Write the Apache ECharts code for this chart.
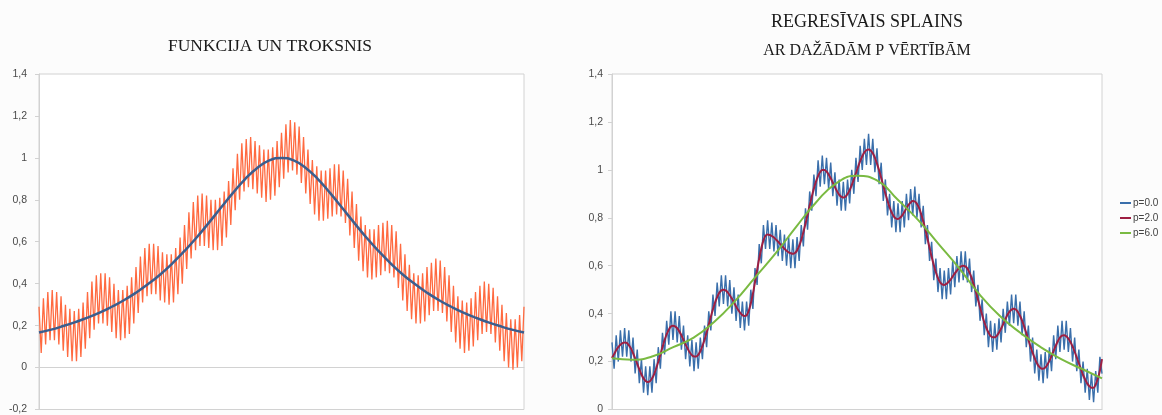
<!DOCTYPE html>
<html>
<head>
<meta charset="utf-8">
<script src="https://cdn.jsdelivr.net/npm/echarts@6/dist/echarts.min.js"></script>
<style>
html,body{margin:0;padding:0;background:#fcfcfc;}
#c{width:1162px;height:415px;}
</style>
</head>
<body>
<div id="c"></div>
<script>
// Left panel: function + noise (orange), sampled at the noise extremes
const leftNoisy = [
0.29,0.07,0.33,0.11,0.36,0.13,0.37,0.13,0.36,0.11,0.34,0.08,0.30,0.05,0.28,0.03,0.27,0.03,0.28,0.05,0.31,0.09,
0.36,0.14,0.41,0.18,0.44,0.21,0.45,0.21,0.45,0.20,0.43,0.17,0.40,0.14,0.37,0.13,0.37,0.14,0.39,0.16,0.43,0.21,
0.48,0.26,0.53,0.31,0.57,0.34,0.59,0.35,0.59,0.35,0.58,0.32,0.55,0.31,0.54,0.30,0.54,0.31,0.57,0.35,0.62,0.40,
0.68,0.47,0.74,0.52,0.79,0.56,0.82,0.58,0.83,0.58,0.82,0.57,0.80,0.56,0.80,0.56,0.81,0.58,0.84,0.62,0.89,0.68,
0.95,0.75,1.02,0.80,1.07,0.84,1.09,0.86,1.10,0.85,1.08,0.83,1.06,0.81,1.04,0.79,1.04,0.80,1.05,0.82,1.08,0.86,
1.12,0.90,1.16,0.93,1.18,0.94,1.17,0.92,1.15,0.88,1.10,0.83,1.04,0.78,0.99,0.73,0.96,0.70,0.94,0.70,0.94,0.71,
0.95,0.72,0.97,0.73,0.97,0.72,0.94,0.69,0.90,0.63,0.84,0.57,0.78,0.51,0.72,0.46,0.68,0.43,0.66,0.42,0.66,0.43,
0.68,0.44,0.69,0.46,0.70,0.45,0.68,0.43,0.65,0.38,0.59,0.32,0.54,0.27,0.49,0.23,0.45,0.21,0.44,0.21,0.45,0.22,
0.48,0.25,0.50,0.27,0.52,0.27,0.51,0.26,0.48,0.22,0.44,0.17,0.39,0.12,0.34,0.09,0.32,0.07,0.31,0.08,0.33,0.10,
0.36,0.13,0.39,0.16,0.41,0.17,0.40,0.16,0.38,0.12,0.34,0.08,0.30,0.03,0.26,0.00,0.23,-0.01,0.23,0.00,0.25,0.03,0.29
];
// Left panel: the underlying function (dark blue)
const leftFunc = [
0.167,0.181,0.198,0.217,0.238,0.262,0.290,0.321,0.357,0.398,0.444,0.497,0.556,0.620,0.690,0.762,0.833,0.899,0.952,0.988,
1.000,
0.988,0.952,0.899,0.833,0.762,0.690,0.620,0.556,0.497,0.444,0.398,0.357,0.321,0.290,0.262,0.238,0.217,0.198,0.181,0.167
];
// Right panel: p=0.0 (blue)
const p00 = [
0.28,0.17,0.31,0.20,0.33,0.22,0.34,0.22,0.33,0.20,
0.30,0.15,0.25,0.11,0.21,0.07,0.18,0.06,0.18,0.07,
0.21,0.11,0.26,0.17,0.32,0.23,0.37,0.27,0.41,0.29,
0.41,0.28,0.39,0.25,0.35,0.21,0.31,0.18,0.29,0.16,
0.28,0.17,0.30,0.21,0.35,0.26,0.41,0.33,0.48,0.39,
0.53,0.43,0.56,0.44,0.56,0.43,0.54,0.40,0.51,0.37,
0.48,0.34,0.45,0.33,0.45,0.35,0.50,0.42,0.59,0.52,
0.69,0.61,0.77,0.67,0.79,0.67,0.78,0.66,0.77,0.64,
0.75,0.62,0.73,0.60,0.72,0.59,0.71,0.59,0.72,0.62,
0.77,0.68,0.84,0.75,0.91,0.83,0.98,0.89,1.04,0.93,
1.06,0.94,1.05,0.92,1.03,0.89,0.99,0.85,0.96,0.83,
0.95,0.83,0.96,0.86,1.00,0.90,1.05,0.95,1.10,1.00,
1.13,1.02,1.15,1.02,1.13,0.99,1.09,0.94,1.03,0.87,
0.96,0.81,0.90,0.76,0.87,0.74,0.86,0.74,0.87,0.76,
0.90,0.79,0.92,0.81,0.93,0.80,0.90,0.76,0.85,0.69,
0.77,0.62,0.70,0.54,0.63,0.49,0.59,0.46,0.58,0.46,
0.59,0.48,0.62,0.51,0.64,0.53,0.66,0.54,0.66,0.53,
0.63,0.49,0.58,0.43,0.52,0.37,0.46,0.31,0.40,0.26,
0.37,0.24,0.36,0.25,0.38,0.28,0.42,0.32,0.45,0.35,
0.48,0.36,0.48,0.35,0.45,0.31,0.41,0.26,0.35,0.20,
0.30,0.15,0.25,0.12,0.23,0.11,0.24,0.13,0.26,0.16,
0.31,0.21,0.35,0.24,0.37,0.25,0.37,0.24,0.34,0.20,
0.30,0.16,0.25,0.11,0.20,0.07,0.17,0.04,0.15,0.03,
0.16,0.07,0.22,0.15
];
// Right panel: p=2.0 (dark red)
const p20 = [
0.215,0.231,0.247,0.260,0.270,0.277,0.280,0.278,0.269,0.255,
0.235,0.213,0.190,0.167,0.146,0.130,0.119,0.115,0.118,0.129,
0.147,0.171,0.199,0.229,0.260,0.289,0.314,0.333,0.346,0.350,
0.347,0.339,0.326,0.310,0.290,0.271,0.253,0.238,0.227,0.221,
0.221,0.228,0.243,0.265,0.291,0.321,0.354,0.387,0.418,0.446,
0.469,0.487,0.497,0.500,0.497,0.489,0.477,0.463,0.447,0.430,
0.415,0.403,0.394,0.390,0.393,0.411,0.442,0.483,0.531,0.582,
0.630,0.672,0.706,0.725,0.730,0.728,0.724,0.718,0.709,0.700,
0.690,0.680,0.671,0.662,0.656,0.652,0.650,0.653,0.664,0.683,
0.708,0.740,0.775,0.812,0.851,0.888,0.922,0.951,0.975,0.991,
0.999,0.999,0.993,0.981,0.965,0.947,0.928,0.911,0.897,0.888,
0.885,0.888,0.899,0.915,0.936,0.960,0.986,1.012,1.036,1.057,
1.073,1.082,1.085,1.081,1.069,1.051,1.026,0.998,0.967,0.934,
0.901,0.871,0.844,0.822,0.806,0.797,0.795,0.800,0.810,0.824,
0.840,0.854,0.864,0.870,0.868,0.858,0.841,0.816,0.785,0.751,
0.713,0.675,0.637,0.603,0.573,0.548,0.531,0.522,0.520,0.524,
0.532,0.542,0.555,0.568,0.580,0.590,0.597,0.600,0.597,0.588,
0.571,0.549,0.521,0.492,0.459,0.427,0.395,0.365,0.341,0.321,
0.307,0.301,0.301,0.308,0.321,0.337,0.356,0.376,0.394,0.408,
0.417,0.420,0.417,0.407,0.391,0.371,0.346,0.319,0.291,0.263,
0.237,0.214,0.194,0.180,0.172,0.170,0.175,0.187,0.203,0.223,
0.245,0.266,0.285,0.300,0.308,0.310,0.306,0.296,0.282,0.263,
0.241,0.217,0.192,0.167,0.144,0.125,0.108,0.097,0.091,0.091,
0.104,0.128,0.162,0.210
];
// Right panel: p=6.0 (green)
const p60 = [
0.214,0.208,0.222,0.26,0.30,0.365,0.45,0.55,0.65,0.76,0.865,0.945,0.975,
0.955,0.875,0.79,0.69,0.59,0.48,0.39,0.32,0.26,0.21,0.17,0.13
];
const leftTitle = 'FUNKCIJA UN TROKSNIS';
const rightTitle1 = 'REGRESĪVAIS SPLAINS';
const rightTitle2 = 'AR DAŽĀDĀM P VĒRTĪBĀM';
const seriesNames = ['p=0.0', 'p=2.0', 'p=6.0'];

const toXY = arr => arr.map((v, i) => [-1 + 2 * i / (arr.length - 1), v]);
const fmt = v => String(+(+v).toFixed(1)).replace('.', ',');

const chart = echarts.init(document.getElementById('c'), null, {renderer: 'canvas'});
const axisGray = '#d2d2d2';
const labelStyle = {color: '#4a4a4a', fontSize: 10.5, fontFamily: '"Liberation Sans", Arial, sans-serif', formatter: fmt};
const serif = '"Liberation Serif", "DejaVu Serif", serif';

chart.setOption({
  animation: false,
  backgroundColor: '#fcfcfc',
  grid: [
    {left: 39, top: 74, width: 485, height: 338, show: true, borderColor: axisGray, borderWidth: 1, backgroundColor: '#ffffff'},
    {left: 612, top: 74, width: 490, height: 338, show: true, borderColor: axisGray, borderWidth: 1, backgroundColor: '#ffffff'}
  ],
  xAxis: [0, 1].map(g => ({
    type: 'value', gridIndex: g, min: -1, max: 1,
    axisLine: {show: true, onZero: true, lineStyle: {color: axisGray, width: 1}},
    axisTick: {show: false}, axisLabel: {show: false}, splitLine: {show: false}
  })),
  yAxis: [
    {type: 'value', gridIndex: 0, min: -0.2, max: 1.4, interval: 0.2,
     axisLine: {show: true, onZero: false, lineStyle: {color: axisGray}},
     axisTick: {show: true, length: 4, lineStyle: {color: axisGray}},
     axisLabel: Object.assign({margin: 12}, labelStyle), splitLine: {show: false}},
    {type: 'value', gridIndex: 1, min: 0, max: 1.4, interval: 0.2,
     axisLine: {show: true, onZero: false, lineStyle: {color: axisGray}},
     axisTick: {show: true, length: 4, lineStyle: {color: axisGray}},
     axisLabel: Object.assign({margin: 9}, labelStyle), splitLine: {show: false}}
  ],
  legend: {
    data: seriesNames, orient: 'vertical', left: 1115, top: 193,
    icon: 'rect', itemWidth: 11, itemHeight: 2, itemGap: 5,
    textStyle: {fontSize: 10, color: '#444', fontFamily: '"Liberation Sans", Arial, sans-serif', padding: [0, 0, 0, -3]}
  },
  graphic: [
    {type: 'text', x: 270, y: 46, silent: true,
     style: {text: leftTitle, align: 'center', verticalAlign: 'middle', font: '17.5px ' + serif, fill: '#1a1a1a'}},
    {type: 'text', x: 867, y: 22, silent: true,
     style: {text: rightTitle1, align: 'center', verticalAlign: 'middle', font: '18px ' + serif, fill: '#1a1a1a'}},
    {type: 'text', x: 867, y: 51, silent: true,
     style: {text: rightTitle2, align: 'center', verticalAlign: 'middle', font: '16px ' + serif, fill: '#1a1a1a'}}
  ],
  series: [
    {type: 'line', name: 'noise', xAxisIndex: 0, yAxisIndex: 0, data: toXY(leftNoisy), showSymbol: false, silent: true,
     color: '#ff6a40', lineStyle: {color: '#ff6a40', width: 1.3}},
    {type: 'line', name: 'func', xAxisIndex: 0, yAxisIndex: 0, data: toXY(leftFunc), showSymbol: false, silent: true, smooth: true,
     color: '#3b5e8e', lineStyle: {color: '#3b5e8e', width: 2.5}},
    {type: 'line', name: seriesNames[0], xAxisIndex: 1, yAxisIndex: 1, data: toXY(p00), showSymbol: false, silent: true,
     color: '#3a6fab', lineStyle: {color: '#3a6fab', width: 1.4}},
    {type: 'line', name: seriesNames[1], xAxisIndex: 1, yAxisIndex: 1, data: toXY(p20), showSymbol: false, silent: true, smooth: 0.3,
     color: '#9e1f42', lineStyle: {color: '#9e1f42', width: 2}},
    {type: 'line', name: seriesNames[2], xAxisIndex: 1, yAxisIndex: 1, data: toXY(p60), showSymbol: false, silent: true, smooth: true,
     color: '#7aba42', lineStyle: {color: '#7aba42', width: 2}}
  ]
});
</script>
</body>
</html>
